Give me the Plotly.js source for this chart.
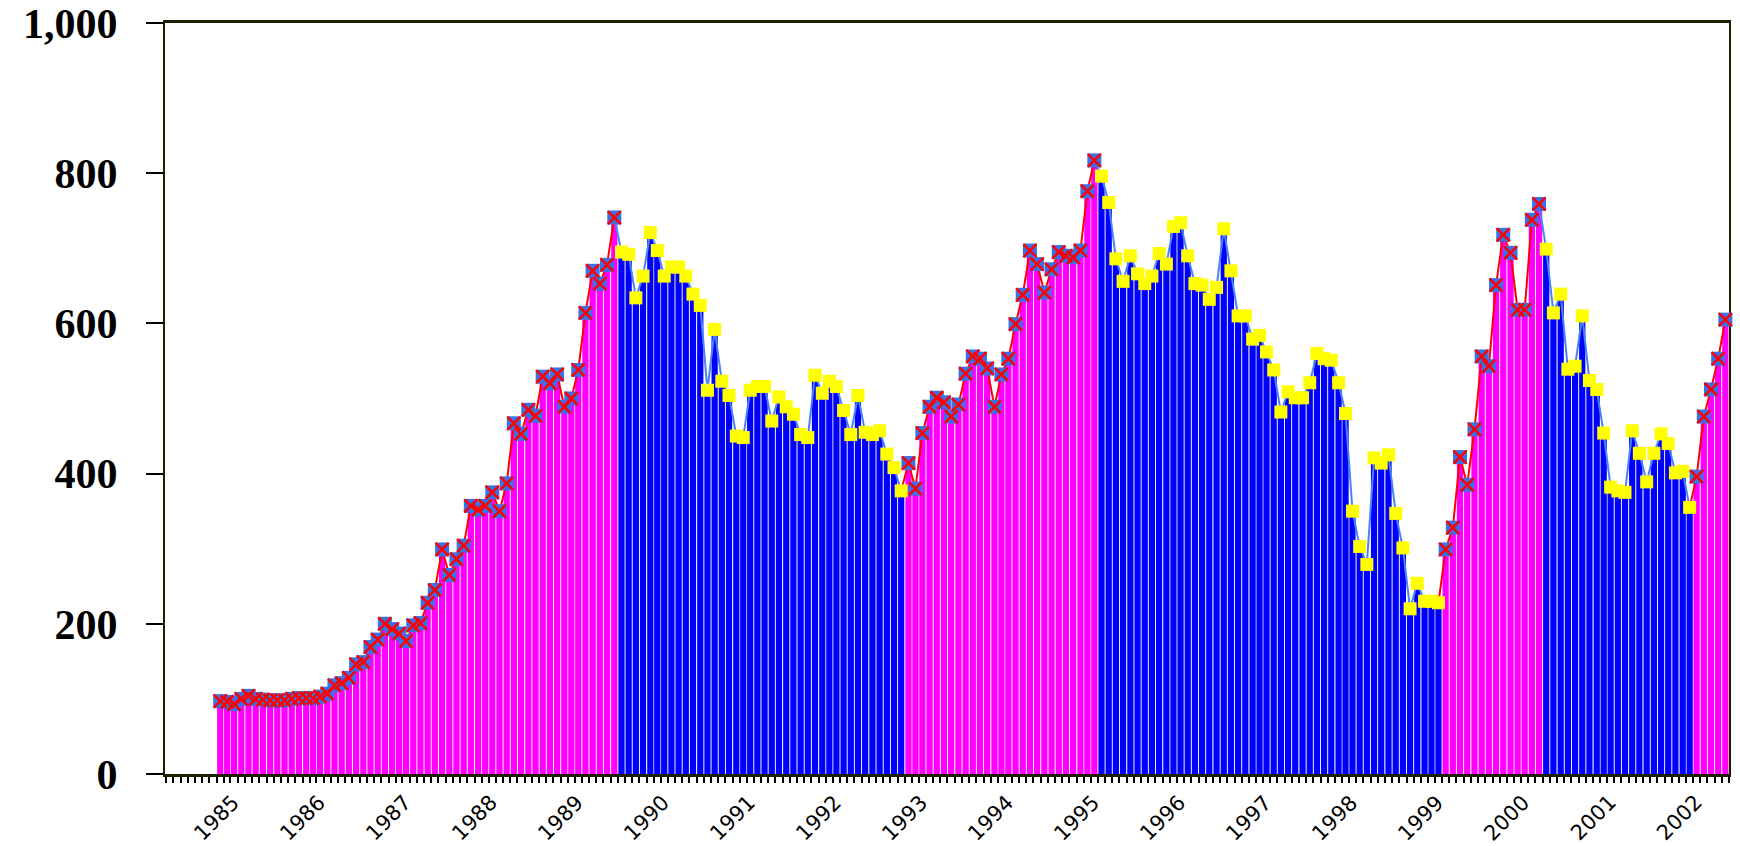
<!DOCTYPE html>
<html>
<head>
<meta charset="utf-8">
<script src="https://cdn.plot.ly/plotly-3.0.1.min.js"></script>
<style>
  html, body { margin: 0; padding: 0; background: #ffffff; }
  #chart { width: 1740px; height: 846px; }
</style>
</head>
<body>
<div id="chart"></div>
<script>
// Monthly values, January to December of each year (2002: January to July)
const v1985 = [97, 96, 93, 100, 104, 100, 99, 98, 98, 98, 100, 101];
const v1986 = [101, 101, 103, 107, 118, 121, 128, 146, 149, 169, 179, 200];
const v1987 = [193, 187, 177, 198, 201, 228, 245, 299, 265, 286, 304, 357];
const v1988 = [352, 357, 375, 350, 387, 467, 453, 485, 477, 529, 520, 532];
const v1989 = [489, 500, 538, 614, 670, 653, 678, 741, 695, 692, 634, 663];
const v1990 = [721, 697, 663, 675, 675, 663, 639, 624, 511, 592, 523, 504];
const v1991 = [450, 448, 511, 516, 516, 470, 502, 489, 479, 452, 448, 531];
const v1992 = [507, 523, 516, 484, 452, 504, 455, 452, 457, 426, 408, 377];
const v1993 = [414, 380, 454, 489, 501, 495, 476, 492, 533, 556, 553, 540];
const v1994 = [489, 532, 553, 599, 638, 697, 679, 641, 672, 695, 690, 688];
const v1995 = [697, 776, 817, 796, 761, 686, 656, 690, 666, 653, 663, 693];
const v1996 = [679, 729, 734, 690, 653, 651, 632, 648, 726, 670, 610, 610];
const v1997 = [579, 584, 562, 538, 482, 509, 501, 501, 521, 560, 553, 551];
const v1998 = [521, 480, 350, 303, 279, 421, 414, 425, 347, 301, 220, 254];
const v1999 = [230, 230, 228, 299, 328, 422, 385, 459, 556, 543, 651, 718];
const v2000 = [694, 618, 618, 738, 759, 699, 614, 639, 539, 543, 610, 524];
const v2001 = [512, 454, 382, 377, 375, 457, 427, 389, 427, 453, 440, 401];
const v2002 = [403, 355, 396, 476, 512, 553, 605];

const firstYear = 1985;
const yearLabels = ['1985','1986','1987','1988','1989','1990','1991','1992','1993',
                    '1994','1995','1996','1997','1998','1999','2000','2001','2002'];

// Rising phases (first month, last month)
const riseStarts = ['1985-01', '1993-01', '1999-04', '2002-03'];
const riseEnds   = ['1989-08', '1995-03', '2000-05', '2002-07'];

const values = [].concat(v1985, v1986, v1987, v1988, v1989, v1990, v1991, v1992, v1993,
                         v1994, v1995, v1996, v1997, v1998, v1999, v2000, v2001, v2002);

const months = values.map((_, i) => {
  const y = firstYear + Math.floor(i / 12);
  const m = (i % 12) + 1;
  return y + '-' + String(m).padStart(2, '0');
});
const dates = months.map(m => m + '-01');

const rising = months.map(m => riseStarts.some((s, k) => m >= s && m <= riseEnds[k]));
const n = values.length;

const barColors = rising.map(r => r ? '#FF00FF' : '#0000FF');
const redLine = values.map((v, i) => (rising[i] || (i + 1 < n && rising[i + 1])) ? v : null);
const blueLine = values.map((v, i) => (!rising[i] || (i + 1 < n && !rising[i + 1])) ? v : null);
const upPts = values.map((v, i) => rising[i] ? v : null);
const downPts = values.map((v, i) => !rising[i] ? v : null);

const per = { xperiod: 'M1', xperiodalignment: 'middle' };

const traces = [
  Object.assign({
    type: 'bar', x: dates, y: values,
    marker: { color: barColors, line: { width: 0 } },
    hoverinfo: 'x+y'
  }, per),
  Object.assign({
    type: 'scatter', mode: 'lines', x: dates, y: redLine,
    line: { color: '#FF0000', width: 2 }, connectgaps: false, hoverinfo: 'skip'
  }, per),
  Object.assign({
    type: 'scatter', mode: 'lines', x: dates, y: blueLine,
    line: { color: '#4A84F2', width: 2 }, connectgaps: false, hoverinfo: 'skip'
  }, per),
  Object.assign({
    type: 'scatter', mode: 'markers', x: dates, y: downPts, cliponaxis: false,
    marker: { symbol: 'square', size: 13, color: '#FFFF00', line: { width: 0 } }
  }, per),
  Object.assign({
    type: 'scatter', mode: 'markers', x: dates, y: upPts, cliponaxis: false,
    marker: { symbol: 'square', size: 14, color: '#3D6FE6', line: { width: 0 } }
  }, per),
  Object.assign({
    type: 'scatter', mode: 'markers', x: dates, y: upPts, cliponaxis: false, hoverinfo: 'skip',
    marker: { symbol: 'x-thin', size: 13, color: '#FF0000', line: { color: '#FF0000', width: 2.5 } }
  }, per)
];

const annotations = yearLabels.map(y => ({
  x: y + '-01-01', xref: 'x', y: 0, yref: 'paper', yshift: -44,
  text: y, showarrow: false, textangle: -45,
  xanchor: 'center', yanchor: 'middle',
  font: { family: 'DejaVu Sans', size: 21, color: '#000000' }
}));

const layout = {
  width: 1740, height: 846,
  margin: { l: 165, r: 11, t: 23, b: 72 },
  paper_bgcolor: '#FFFFFF', plot_bgcolor: '#FFFFFF',
  showlegend: false,
  bargap: 0.1,
  xaxis: {
    type: 'date',
    range: ['1984-05-27', '2002-08-01'],
    tick0: '1985-01-01', dtick: 'M12',
    ticks: 'outside', ticklen: 6, tickwidth: 2, tickcolor: '#000000',
    showticklabels: false,
    minor: { dtick: 'M1', ticks: 'outside', ticklen: 6, tickwidth: 2, tickcolor: '#000000', showgrid: false },
    showline: true, linecolor: '#1E1E00', linewidth: 3, mirror: true,
    showgrid: false, zeroline: false, layer: 'below traces', fixedrange: true
  },
  yaxis: {
    range: [0, 1000],
    tickvals: [0, 200, 400, 600, 800, 1000],
    tickformat: ',d',
    ticks: 'outside', ticklen: 17, tickwidth: 2, tickcolor: '#000000',
    ticklabelstandoff: 20,
    ticklabeloverflow: 'allow',
    tickfont: { family: 'Liberation Serif', size: 42, weight: 'bold', color: '#000000' },
    showline: true, linecolor: '#1E1E00', linewidth: 2, mirror: true,
    showgrid: false, zeroline: false, layer: 'below traces', fixedrange: true
  },
  annotations: annotations
};

Plotly.newPlot('chart', traces, layout, { displayModeBar: false, staticPlot: true });
</script>
</body>
</html>
